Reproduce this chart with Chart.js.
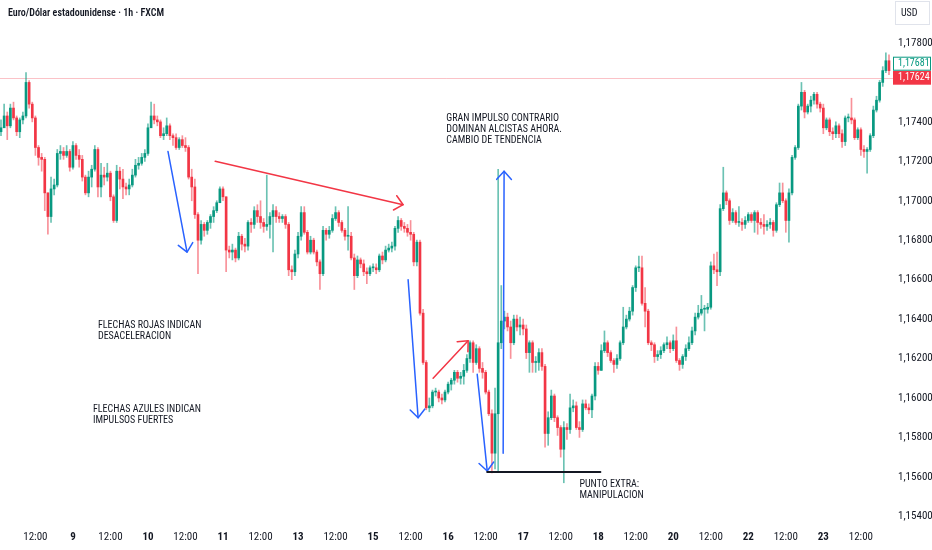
<!DOCTYPE html>
<html>
<head>
<meta charset="utf-8">
<script src="https://cdn.jsdelivr.net/npm/chart.js@4.4.1/dist/chart.umd.min.js"></script>
<style>
  html, body { margin: 0; padding: 0; background: #fff; }
  #wrap { width: 932px; height: 550px; position: relative; }
</style>
</head>
<body>
<div id="wrap"><canvas id="chart"></canvas></div>
<script>
// EUR/USD 1h candles (open = previous close)
const firstOpen = 1.1735;
const closes = [
  1.1737,1.1743,1.1738,1.1747,1.1742,1.1735,1.1741,1.1743,1.1760,1.1749,
  1.1742,1.1727,1.1722,1.1721,1.1704,1.1692,1.1706,1.1708,1.1724,1.1725,
  1.1723,1.1725,1.1717,1.1728,1.1723,1.1721,1.1712,1.1704,1.1712,1.1716,
  1.1726,1.1707,1.1713,1.1712,1.1714,1.1702,1.1690,1.1715,1.1711,1.1707,
  1.1706,1.1708,1.1713,1.1718,1.1719,1.1722,1.1724,1.1737,1.1743,1.1741,
  1.1740,1.1733,1.1734,1.1738,1.1733,1.1732,1.1727,1.1731,1.1728,1.1727,
  1.1712,1.1707,1.1693,1.1680,1.1688,1.1685,1.1689,1.1692,1.1695,1.1699,
  1.1706,1.1702,1.1675,1.1674,1.1675,1.1671,1.1682,1.1678,1.1677,1.1689,
  1.1688,1.1695,1.1692,1.1689,1.1687,1.1688,1.1692,1.1695,1.1692,1.1691,
  1.1692,1.1688,1.1665,1.1664,1.1673,1.1682,1.1694,1.1684,1.1674,1.1680,
  1.1674,1.1669,1.1663,1.1685,1.1683,1.1685,1.1691,1.1694,1.1689,1.1685,
  1.1682,1.1682,1.1671,1.1662,1.1670,1.1668,1.1664,1.1663,1.1666,1.1666,
  1.1665,1.1672,1.1670,1.1675,1.1676,1.1677,1.1686,1.1690,1.1687,1.1686,
  1.1684,1.1683,1.1669,1.1679,1.1643,1.1618,1.1595,1.1596,1.1603,1.1603,
  1.1600,1.1599,1.1603,1.1607,1.1609,1.1613,1.1610,1.1611,1.1614,1.1620,
  1.1628,1.1618,1.1625,1.1615,1.1613,1.1603,1.1592,1.1572,1.1592,1.1628,
  1.1639,1.1641,1.1636,1.1628,1.1640,1.1636,1.1637,1.1635,1.1623,1.1628,
  1.1618,1.1618,1.1623,1.1616,1.1582,1.1590,1.1601,1.1590,1.1585,1.1574,
  1.1585,1.1584,1.1595,1.1596,1.1585,1.1584,1.1597,1.1595,1.1594,1.1601,
  1.1616,1.1614,1.1624,1.1628,1.1623,1.1619,1.1617,1.1620,1.1628,1.1636,
  1.1640,1.1644,1.1656,1.1666,1.1666,1.1648,1.1644,1.1628,1.1627,1.1621,
  1.1622,1.1624,1.1627,1.1628,1.1625,1.1629,1.1619,1.1617,1.1621,1.1625,
  1.1628,1.1634,1.1641,1.1643,1.1645,1.1645,1.1646,1.1667,1.1665,1.1664,
  1.1696,1.1704,1.1700,1.1690,1.1694,1.1689,1.1689,1.1688,1.1690,1.1693,
  1.1690,1.1694,1.1689,1.1688,1.1687,1.1688,1.1689,1.1685,1.1698,1.1704,
  1.1700,1.1690,1.1704,1.1722,1.1727,1.1748,1.1755,1.1745,1.1748,1.1751,
  1.1754,1.1749,1.1747,1.1737,1.1741,1.1735,1.1734,1.1738,1.1734,1.1730,
  1.1742,1.1742,1.1741,1.1732,1.1736,1.1726,1.1725,1.1726,1.1733,1.1746,
  1.1751,1.1760,1.1766,1.1771,1.1766
];
const highs = [
  1.1741,1.1749,1.1745,1.1749,1.1750,1.1743,1.1742,1.1745,1.1765,1.1761,
  1.1750,1.1743,1.1728,1.1724,1.1722,1.1704,1.1712,1.1711,1.1726,1.1728,
  1.1727,1.1728,1.1726,1.1730,1.1729,1.1726,1.1723,1.1713,1.1715,1.1718,
  1.1728,1.1727,1.1719,1.1717,1.1719,1.1715,1.1703,1.1718,1.1717,1.1716,
  1.1709,1.1711,1.1716,1.1721,1.1722,1.1724,1.1726,1.1739,1.1750,1.1749,
  1.1743,1.1741,1.1737,1.1742,1.1739,1.1734,1.1734,1.1732,1.1733,1.1732,
  1.1728,1.1716,1.1711,1.1694,1.1690,1.1689,1.1690,1.1693,1.1697,1.1700,
  1.1707,1.1707,1.1702,1.1677,1.1678,1.1676,1.1684,1.1683,1.1681,1.1690,
  1.1691,1.1697,1.1698,1.1700,1.1691,1.1713,1.1694,1.1698,1.1697,1.1694,
  1.1693,1.1693,1.1689,1.1667,1.1675,1.1684,1.1697,1.1697,1.1685,1.1682,
  1.1681,1.1675,1.1670,1.1687,1.1686,1.1687,1.1693,1.1697,1.1695,1.1690,
  1.1686,1.1697,1.1684,1.1673,1.1672,1.1671,1.1670,1.1666,1.1667,1.1668,
  1.1668,1.1673,1.1674,1.1677,1.1678,1.1679,1.1687,1.1692,1.1691,1.1689,
  1.1688,1.1690,1.1684,1.1680,1.1680,1.1645,1.1619,1.1600,1.1604,1.1605,
  1.1604,1.1602,1.1604,1.1608,1.1610,1.1614,1.1614,1.1613,1.1617,1.1622,
  1.1629,1.1629,1.1627,1.1626,1.1618,1.1614,1.1604,1.1594,1.1605,1.1716,
  1.1657,1.1644,1.1643,1.1639,1.1642,1.1642,1.1641,1.1640,1.1637,1.1629,
  1.1629,1.1621,1.1625,1.1625,1.1617,1.1593,1.1604,1.1602,1.1591,1.1586,
  1.1588,1.1587,1.1602,1.1599,1.1598,1.1588,1.1599,1.1599,1.1597,1.1602,
  1.1618,1.1618,1.1627,1.1634,1.1629,1.1624,1.1620,1.1622,1.1629,1.1646,
  1.1642,1.1646,1.1657,1.1667,1.1672,1.1672,1.1656,1.1645,1.1629,1.1628,
  1.1624,1.1626,1.1628,1.1631,1.1629,1.1632,1.1636,1.1620,1.1622,1.1627,
  1.1631,1.1636,1.1643,1.1647,1.1652,1.1647,1.1648,1.1669,1.1673,1.1674,
  1.1698,1.1717,1.1705,1.1701,1.1696,1.1695,1.1697,1.1691,1.1692,1.1694,
  1.1694,1.1695,1.1695,1.1691,1.1693,1.1690,1.1691,1.1690,1.1699,1.1709,
  1.1709,1.1701,1.1706,1.1723,1.1728,1.1749,1.1760,1.1756,1.1749,1.1753,
  1.1755,1.1755,1.1750,1.1749,1.1742,1.1742,1.1737,1.1740,1.1739,1.1736,
  1.1743,1.1744,1.1752,1.1742,1.1737,1.1737,1.1728,1.1727,1.1734,1.1748,
  1.1753,1.1761,1.1768,1.1775,1.1774
];
const lows = [
  1.1733,1.1737,1.1731,1.1737,1.1741,1.1733,1.1732,1.1739,1.1742,1.1747,
  1.1740,1.1723,1.1718,1.1715,1.1695,1.1683,1.1689,1.1703,1.1707,1.1721,
  1.1721,1.1722,1.1715,1.1716,1.1721,1.1717,1.1710,1.1703,1.1702,1.1707,
  1.1715,1.1702,1.1702,1.1708,1.1710,1.1700,1.1689,1.1689,1.1706,1.1701,
  1.1703,1.1703,1.1707,1.1712,1.1716,1.1718,1.1720,1.1723,1.1737,1.1739,
  1.1738,1.1732,1.1731,1.1733,1.1731,1.1728,1.1726,1.1726,1.1727,1.1725,
  1.1711,1.1700,1.1691,1.1663,1.1678,1.1682,1.1683,1.1686,1.1689,1.1694,
  1.1699,1.1700,1.1664,1.1671,1.1670,1.1669,1.1670,1.1675,1.1674,1.1675,
  1.1684,1.1686,1.1689,1.1686,1.1684,1.1685,1.1681,1.1674,1.1689,1.1689,
  1.1689,1.1686,1.1662,1.1660,1.1662,1.1671,1.1680,1.1683,1.1673,1.1673,
  1.1673,1.1667,1.1655,1.1662,1.1680,1.1681,1.1684,1.1690,1.1687,1.1684,
  1.1680,1.1675,1.1670,1.1655,1.1661,1.1666,1.1662,1.1658,1.1662,1.1664,
  1.1663,1.1664,1.1668,1.1669,1.1674,1.1674,1.1675,1.1684,1.1685,1.1684,
  1.1682,1.1680,1.1667,1.1667,1.1642,1.1617,1.1594,1.1593,1.1595,1.1601,
  1.1598,1.1597,1.1598,1.1602,1.1604,1.1607,1.1608,1.1607,1.1607,1.1613,
  1.1618,1.1613,1.1617,1.1613,1.1610,1.1602,1.1591,1.1562,1.1564,1.1563,
  1.1625,1.1635,1.1634,1.1620,1.1627,1.1634,1.1632,1.1632,1.1620,1.1613,
  1.1613,1.1613,1.1614,1.1614,1.1575,1.1576,1.1589,1.1588,1.1581,1.1570,
  1.1557,1.1579,1.1582,1.1593,1.1584,1.1580,1.1583,1.1594,1.1592,1.1590,
  1.1599,1.1612,1.1614,1.1623,1.1621,1.1618,1.1613,1.1615,1.1619,1.1627,
  1.1635,1.1639,1.1642,1.1654,1.1664,1.1647,1.1636,1.1627,1.1624,1.1618,
  1.1619,1.1620,1.1623,1.1625,1.1623,1.1624,1.1618,1.1614,1.1615,1.1619,
  1.1624,1.1627,1.1632,1.1640,1.1642,1.1634,1.1643,1.1645,1.1663,1.1657,
  1.1662,1.1695,1.1698,1.1688,1.1689,1.1688,1.1687,1.1685,1.1686,1.1689,
  1.1689,1.1684,1.1683,1.1686,1.1683,1.1685,1.1686,1.1682,1.1684,1.1697,
  1.1699,1.1684,1.1679,1.1703,1.1721,1.1726,1.1746,1.1742,1.1744,1.1745,
  1.1749,1.1747,1.1745,1.1734,1.1736,1.1733,1.1731,1.1732,1.1732,1.1727,
  1.1728,1.1740,1.1739,1.1731,1.1731,1.1723,1.1722,1.1714,1.1725,1.1732,
  1.1745,1.1750,1.1758,1.1765,1.1764
];

// axis labels
const xTickLabels = ['12:00','9','12:00','10','12:00','11','12:00','13','12:00','15','12:00','16',
                     '12:00','17','12:00','18','12:00','20','12:00','22','12:00','23','12:00'];
const xTickFirst = 11;   // candle index of the first label
const xTickEvery = 12;   // one label every 12 hourly candles
const priceTicks = [1.154,1.156,1.158,1.160,1.162,1.164,1.166,1.168,1.170,1.172,1.174,1.178];
const lastPrice = 1.17624;
const otherPrice = 1.17681;

// hand drawings on the chart, in (candle index, price)
const arrows = [
  { from: [53.4, 1.1725], to: [59.5, 1.1674], color: '#2962ff' },
  { from: [68.5, 1.1720], to: [128.6, 1.1698], color: '#f23645' },
  { from: [130.2, 1.1660], to: [133.4, 1.1590], color: '#2962ff' },
  { from: [138.2, 1.1610], to: [149.4, 1.1629], color: '#f23645' },
  { from: [152.3, 1.1612], to: [155.5, 1.1563], color: '#2962ff' },
  { from: [160.6, 1.1572], to: [160.9, 1.1715], color: '#2962ff' }
];
const flatLine = { from: [155.5, 1.15625], to: [191.7, 1.15625] };
const notes = [
  { at: [142.4, 1.17417], lines: ['GRAN IMPULSO CONTRARIO', 'DOMINAN ALCISTAS AHORA.', 'CAMBIO DE TENDENCIA'] },
  { at: [31.0, 1.16370], lines: ['FLECHAS ROJAS INDICAN', 'DESACELERACION'] },
  { at: [29.4, 1.15939], lines: ['FLECHAS AZULES INDICAN', 'IMPULSOS FUERTES'] },
  { at: [185.0, 1.15559], lines: ['PUNTO EXTRA:', 'MANIPULACION'] }
];

const upColor = '#089981';
const downColor = '#f23645';
const FONT = '"Liberation Sans Narrow", "Roboto Condensed", "Liberation Sans", Arial, sans-serif';

const opens = closes.map((c, i) => i === 0 ? firstOpen : closes[i - 1]);
const isUp = closes.map((c, i) => c >= opens[i]);

function fmtPrice(v) {
  return v.toFixed(5).replace('.', ',');
}

function drawArrow(ctx, x1, y1, x2, y2, color) {
  ctx.strokeStyle = color;
  ctx.lineWidth = 1.5;
  ctx.beginPath();
  ctx.moveTo(x1, y1);
  ctx.lineTo(x2, y2);
  ctx.stroke();
  const a = Math.atan2(y2 - y1, x2 - x1);
  const len = 11, spread = Math.PI / 4.3;
  ctx.beginPath();
  ctx.moveTo(x2 - len * Math.cos(a - spread), y2 - len * Math.sin(a - spread));
  ctx.lineTo(x2, y2);
  ctx.lineTo(x2 - len * Math.cos(a + spread), y2 - len * Math.sin(a + spread));
  ctx.stroke();
}

const overlay = {
  id: 'overlay',
  beforeDatasetsDraw(chart) {
    const { ctx, chartArea, scales: { y } } = chart;
    const py = Math.round(y.getPixelForValue(lastPrice)) + 0.5;
    ctx.save();
    ctx.strokeStyle = 'rgba(242,54,69,0.3)';
    ctx.lineWidth = 1;
    ctx.beginPath();
    ctx.moveTo(chartArea.left, py);
    ctx.lineTo(chartArea.right, py);
    ctx.stroke();
    ctx.restore();
  },
  afterDatasetsDraw(chart) {
    const { ctx, scales: { x, y } } = chart;
    const px = p => [x.getPixelForValue(p[0]), y.getPixelForValue(p[1])];
    ctx.save();
    ctx.lineCap = 'round';
    ctx.lineJoin = 'round';
    arrows.forEach(a => {
      const [x1, y1] = px(a.from);
      const [x2, y2] = px(a.to);
      drawArrow(ctx, x1, y1, x2, y2, a.color);
    });
    const [lx1, ly1] = px(flatLine.from);
    const [lx2] = px(flatLine.to);
    ctx.strokeStyle = '#131722';
    ctx.lineWidth = 2;
    ctx.beginPath();
    ctx.moveTo(lx1, ly1);
    ctx.lineTo(lx2, ly1);
    ctx.stroke();

    ctx.fillStyle = '#131722';
    ctx.font = '10px ' + FONT;
    ctx.textAlign = 'left';
    ctx.textBaseline = 'middle';
    notes.forEach(n => {
      const [tx, ty] = px(n.at);
      n.lines.forEach((line, k) => ctx.fillText(line, tx, ty + k * 11));
    });
    ctx.restore();
  },
  afterDraw(chart) {
    const { ctx, chartArea, scales: { y } } = chart;
    ctx.save();
    // title
    ctx.fillStyle = '#131722';
    ctx.font = '600 10px ' + FONT;
    ctx.textAlign = 'left';
    ctx.textBaseline = 'middle';
    ctx.fillText('Euro/Dólar estadounidense · 1h · FXCM', 8, 13);

    // currency box
    ctx.strokeStyle = '#e0e3eb';
    ctx.lineWidth = 1;
    ctx.strokeRect(895.5, 1.5, 34, 23);
    ctx.font = '10px ' + FONT;
    ctx.fillText('USD', 901, 13);

    // last price label
    const right = chart.width;
    const redY = y.getPixelForValue(lastPrice);
    const boxH = 14;
    ctx.fillStyle = downColor;
    ctx.fillRect(chartArea.right, redY - boxH / 2, right - chartArea.right - 1, boxH);
    ctx.fillStyle = '#fff';
    ctx.fillText(fmtPrice(lastPrice), chartArea.right + 5, redY);

    // other price label, pushed up so it does not overlap
    const greenY = Math.min(y.getPixelForValue(otherPrice), redY - boxH);
    ctx.fillStyle = '#fff';
    ctx.fillRect(chartArea.right, greenY - boxH / 2, right - chartArea.right - 1, boxH);
    ctx.strokeStyle = upColor;
    ctx.strokeRect(chartArea.right + 0.5, greenY - boxH / 2 + 0.5, right - chartArea.right - 2, boxH - 1);
    ctx.fillStyle = upColor;
    ctx.fillText(fmtPrice(otherPrice), chartArea.right + 5, greenY);
    ctx.restore();
  }
};

const candleColor = isUp.map(u => u ? upColor : downColor);
const wickColor = isUp.map(u => u ? 'rgba(8,153,129,0.6)' : 'rgba(242,54,69,0.55)');

new Chart(document.getElementById('chart'), {
  type: 'bar',
  data: {
    datasets: [
      {
        label: 'cuerpo',
        data: closes.map((c, i) => ({ x: i, y: [opens[i], c] })),
        backgroundColor: candleColor,
        borderWidth: 0,
        barThickness: 2,
        minBarLength: 1,
        grouped: false,
        order: 0
      },
      {
        label: 'mecha',
        data: closes.map((c, i) => ({ x: i, y: [lows[i], highs[i]] })),
        backgroundColor: wickColor,
        borderWidth: 0,
        barThickness: 1,
        minBarLength: 1,
        grouped: false,
        order: 1
      }
    ]
  },
  options: {
    responsive: true,
    maintainAspectRatio: false,
    animation: false,
    layout: { padding: 0 },
    plugins: {
      legend: { display: false },
      tooltip: { enabled: false }
    },
    scales: {
      x: {
        type: 'linear',
        offset: false,
        min: -0.32,
        max: 285.28,
        grid: { display: false, drawTicks: false },
        border: { display: false },
        afterBuildTicks: scale => {
          scale.ticks = xTickLabels.map((l, k) => ({ value: xTickFirst + k * xTickEvery }));
        },
        afterFit: scale => {
          scale.height = 27;
          scale.paddingLeft = 0;
          scale.paddingRight = 0;
        },
        ticks: {
          autoSkip: false,
          maxRotation: 0,
          padding: 8,
          color: '#131722',
          font: ctx => ({ family: FONT, size: 11, weight: /^\d+$/.test(xTickLabels[ctx.index]) ? 'bold' : 'normal' }),
          callback: (v, i) => xTickLabels[i]
        }
      },
      y: {
        position: 'right',
        min: 1.15366,
        max: 1.18018,
        grid: { display: false, drawTicks: false },
        border: { display: false },
        afterBuildTicks: scale => {
          scale.ticks = priceTicks.map(v => ({ value: v }));
        },
        afterFit: scale => {
          scale.width = 39;
          scale.paddingTop = 0;
          scale.paddingBottom = 0;
        },
        ticks: {
          padding: 5,
          color: '#131722',
          font: { family: FONT, size: 11 },
          callback: v => fmtPrice(v)
        }
      }
    }
  },
  plugins: [overlay]
});
</script>
</body>
</html>
